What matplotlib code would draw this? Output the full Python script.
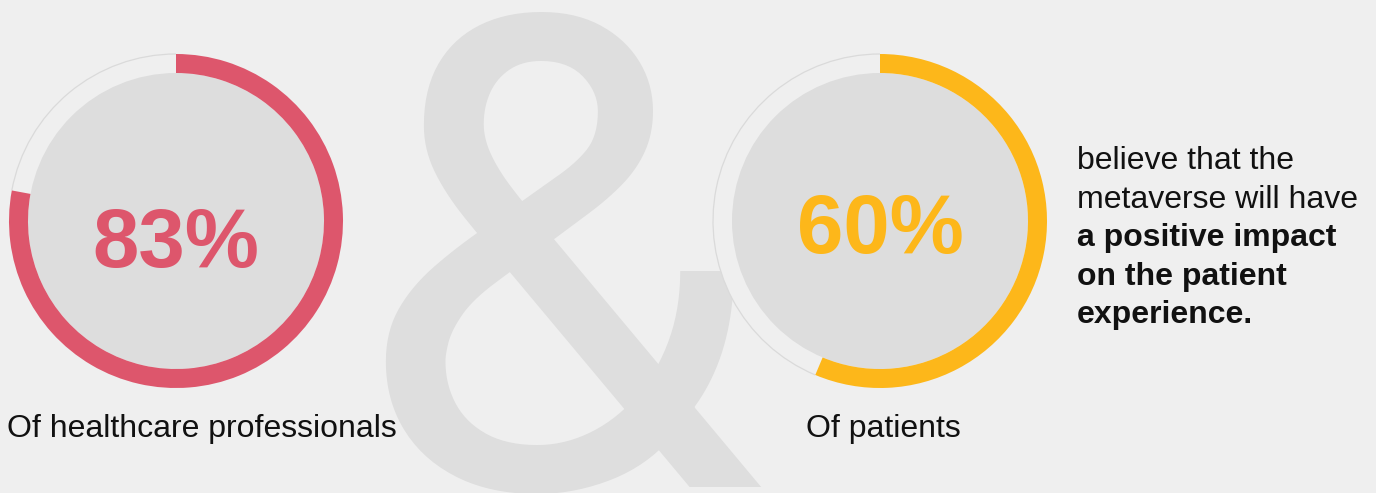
import matplotlib
matplotlib.use("Agg")
import matplotlib.pyplot as plt
from matplotlib.patches import Wedge, Circle, Arc

# ---- data ----
percent_values = [83, 60]
percent_labels = ["83%", "60%"]
group_labels = ["Of healthcare professionals", "Of patients"]
statement_normal = ["believe that the", "metaverse will have"]
statement_bold = ["a positive impact", "on the patient", "experience."]

# ---- style ----
W, H = 1376, 493
BG = "#efefef"
DISC = "#dddddd"
AMP = "#dedede"
colors = ["#dd566c", "#fdb71a"]
centers = [(176, 221), (880, 221)]
R_OUT = 167
RING_W = 19
ARC_SPAN = 338.0  # degrees shown for 100 %
pct_baseline = [267, 253]
label_x = [7, 806]
label_y = 437
FONT = ["Liberation Sans", "DejaVu Sans"]

fig = plt.figure(figsize=(W / 100, H / 100), dpi=100, facecolor=BG)
ax = fig.add_axes([0, 0, 1, 1])
ax.set_xlim(0, W)
ax.set_ylim(0, H)
ax.set_facecolor(BG)
ax.axis("off")


def Y(y):
    return H - y


# big ampersand in the background
ax.text(352, Y(488), "&", fontsize=475, family=["Roboto", "DejaVu Sans"],
        color=AMP, ha="left", va="baseline", zorder=1)

for (cx, cy), val, col, plabel, py, glabel, lx in zip(
        centers, percent_values, colors, percent_labels, pct_baseline,
        group_labels, label_x):
    c = (cx, Y(cy))
    sweep = val / 100.0 * ARC_SPAN
    # unfilled ring part (background coloured) with a thin outline
    ax.add_patch(Wedge(c, R_OUT, 90, 90 - sweep + 360, width=RING_W,
                       facecolor=BG, edgecolor="none", zorder=2))
    ax.add_patch(Arc(c, 2 * R_OUT, 2 * R_OUT, theta1=90, theta2=90 - sweep + 360,
                     color="#dadada", lw=0.9, zorder=2.5))
    # inner disc
    ax.add_patch(Circle(c, R_OUT - RING_W, facecolor=DISC, edgecolor="none",
                        zorder=3))
    # filled arc (clockwise from 12 o'clock)
    ax.add_patch(Wedge(c, R_OUT, 90 - sweep, 90, width=RING_W,
                       facecolor=col, edgecolor="none", zorder=4))
    ax.text(cx, Y(py), plabel, fontsize=60, family=FONT, fontweight="bold",
            color=col, ha="center", va="baseline", zorder=5)
    ax.text(lx, Y(label_y), glabel, fontsize=23, family=FONT, color="#111111",
            ha="left", va="baseline", zorder=5)

# statement text on the right
tx = 1077
base = 169
step = 38.5
lines = [(t, "normal") for t in statement_normal] + [(t, "bold") for t in statement_bold]
for i, (t, wgt) in enumerate(lines):
    ax.text(tx, Y(base + i * step), t, fontsize=23,
            family=FONT, fontweight=wgt, color="#111111",
            ha="left", va="baseline", zorder=5)

fig.savefig("out.png", dpi=100, facecolor=BG)
